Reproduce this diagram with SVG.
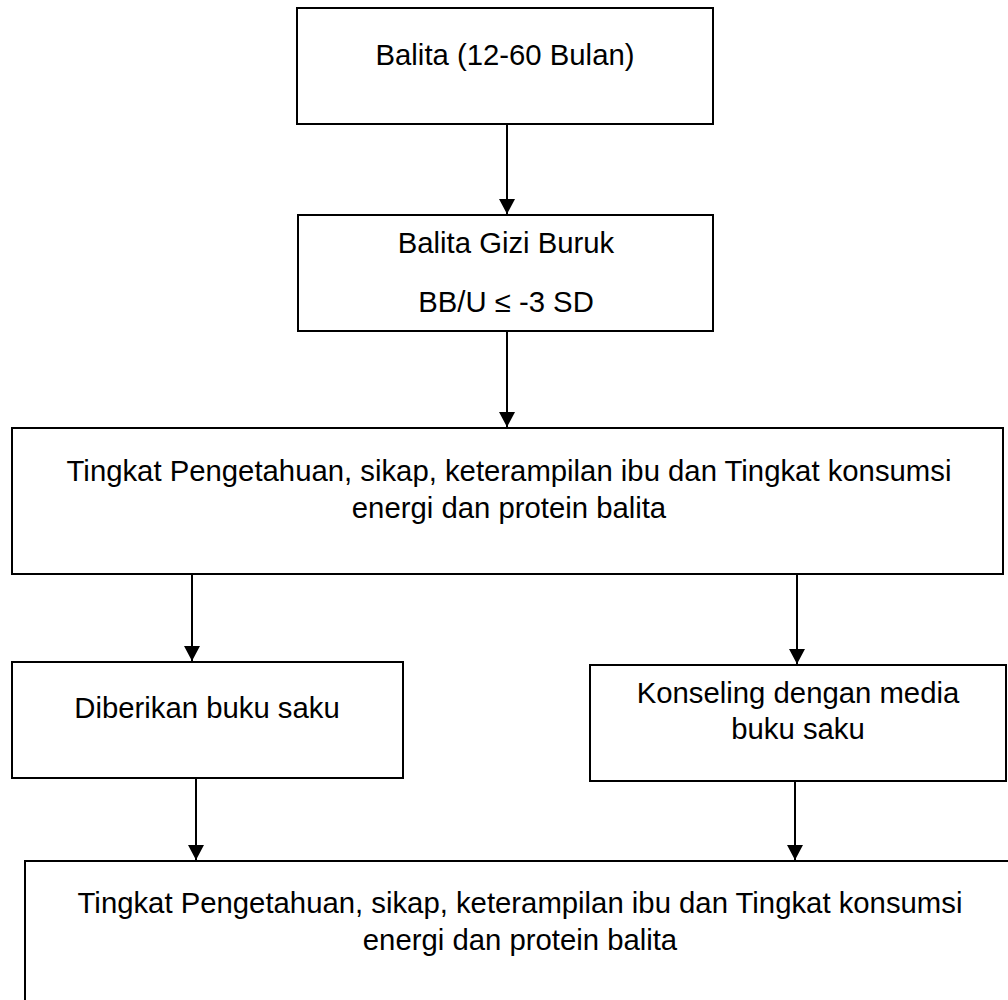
<svg xmlns="http://www.w3.org/2000/svg" width="1008" height="1000" viewBox="0 0 1008 1000">
<style>
.box{fill:#fff;stroke:#000;stroke-width:2}
.t{font-family:"Liberation Sans",Arial,sans-serif;font-size:29.3px;fill:#000;text-anchor:middle}
.c{stroke:#000;stroke-width:2;fill:none;marker-end:url(#ah)}
</style>
<defs>
<marker id="ah" markerWidth="16" markerHeight="16" refX="15" refY="8" orient="auto" markerUnits="userSpaceOnUse">
<path d="M0,0 L15,8 L0,16 Z" fill="#000"/>
</marker>
</defs>
<rect width="1008" height="1000" fill="#fff"/>
<g id="connectors">
<line class="c" x1="507" y1="124" x2="507" y2="214"/>
<line class="c" x1="507" y1="331" x2="507" y2="427"/>
<line class="c" x1="192" y1="574" x2="192" y2="661"/>
<line class="c" x1="797" y1="574" x2="797" y2="664"/>
<line class="c" x1="196" y1="778" x2="196" y2="860"/>
<line class="c" x1="795" y1="781" x2="795" y2="860"/>
</g>
<g id="n1"><rect class="box" x="297" y="8" width="416" height="116"/><text class="t" x="505" y="65">Balita (12-60 Bulan)</text></g>
<g id="n2"><rect class="box" x="298" y="215" width="415" height="116"/><text class="t" x="506" y="253">Balita Gizi Buruk</text><text class="t" x="506" y="312">BB/U ≤ -3 SD</text></g>
<g id="n3"><rect class="box" x="12" y="428" width="991" height="146"/><text class="t" x="509" y="481">Tingkat Pengetahuan, sikap, keterampilan ibu dan Tingkat konsumsi</text><text class="t" x="509" y="518">energi dan protein balita</text></g>
<g id="n4"><rect class="box" x="12" y="662" width="391" height="116"/><text class="t" x="207" y="718">Diberikan buku saku</text></g>
<g id="n5"><rect class="box" x="590" y="665" width="416" height="116"/><text class="t" x="798" y="703">Konseling dengan media</text><text class="t" x="798" y="739">buku saku</text></g>
<g id="n6"><rect class="box" x="25" y="861" width="1000" height="160"/><text class="t" x="520" y="913">Tingkat Pengetahuan, sikap, keterampilan ibu dan Tingkat konsumsi</text><text class="t" x="520" y="950">energi dan protein balita</text></g>
</svg>
